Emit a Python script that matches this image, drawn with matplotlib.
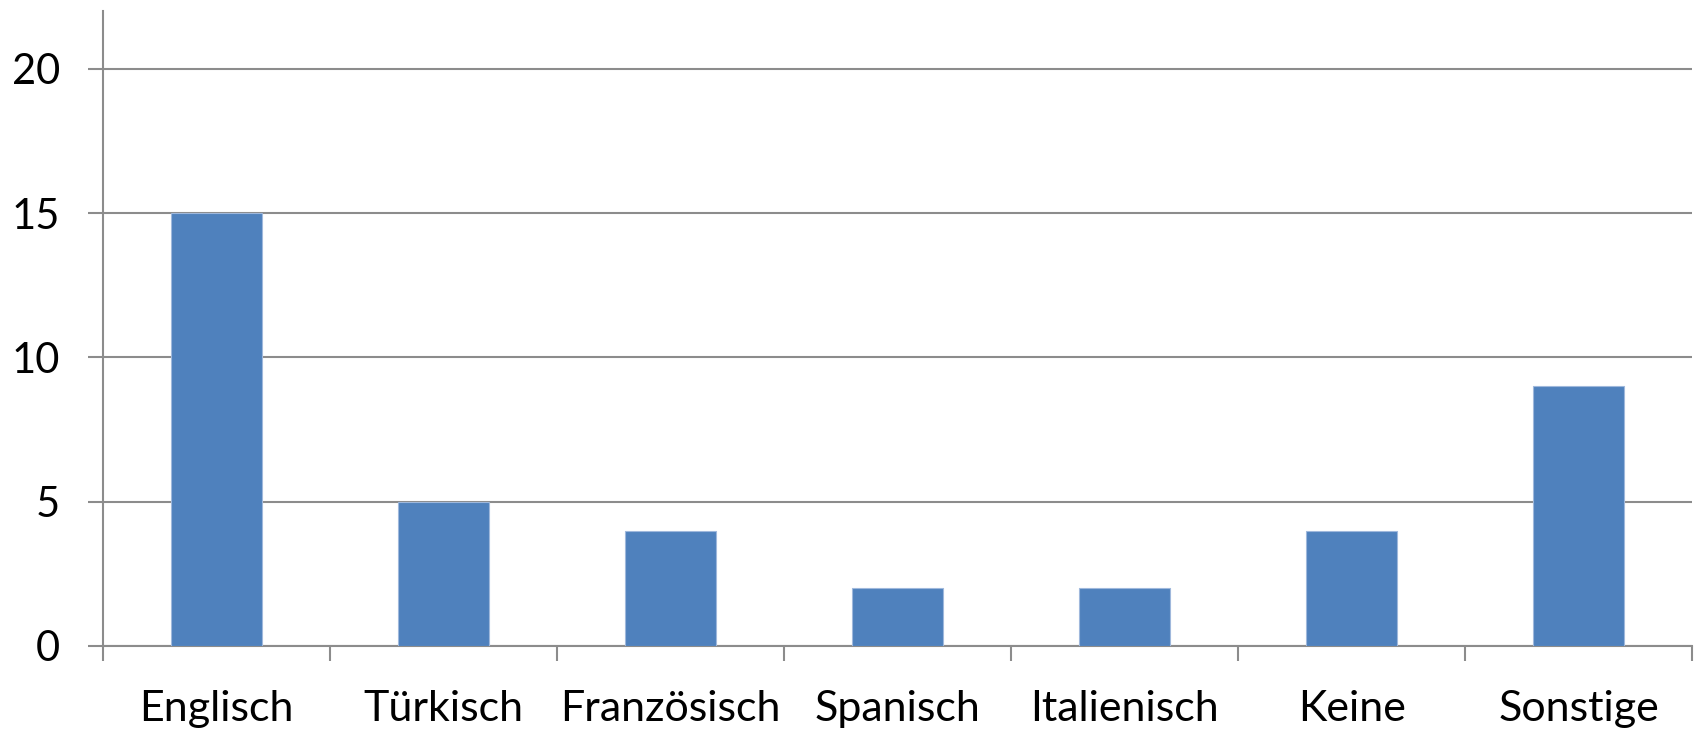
import numpy as np
import matplotlib.pyplot as plt

# Sprachen und Anzahl
sprachen = ['Englisch', 'Türkisch', 'Französisch', 'Spanisch', 'Italienisch', 'Keine', 'Sonstige']
anzahl = [15, 5, 4, 2, 2, 4, 9]
yticks = [0, 5, 10, 15, 20]

plt.rcParams['font.family'] = ['Lato', 'DejaVu Sans']
grau = '#8c8c8c'

fig = plt.figure(figsize=(16.96, 7.31), dpi=100)
ax = fig.add_axes([0.0607, 0.1163, 0.9370, 0.8687])

x = np.arange(len(sprachen))
ax.bar(x, anzahl, width=0.4, color='#4f81bd', edgecolor='#9fb8dc', linewidth=0.8, zorder=3)

ax.set_xlim(-0.5, len(sprachen) - 0.5)
ax.set_ylim(0, 22)
ax.set_yticks(yticks)
ax.yaxis.grid(True, color=grau, linewidth=1.5, zorder=0)

# Kategoriegrenzen als Ticks
ax.set_xticks(np.arange(len(sprachen) + 1) - 0.5)
ax.set_xticklabels([])
ax.set_xticks(x, minor=True)
ax.set_xticklabels(sprachen, minor=True, fontsize=31)
ax.tick_params(axis='x', which='minor', length=0, pad=32)
ax.tick_params(axis='x', which='major', length=11, width=1.5, color=grau)
ax.tick_params(axis='y', length=11, width=1.5, color=grau, labelsize=30, pad=20)

for s in ['top', 'right']:
    ax.spines[s].set_visible(False)
for s in ['left', 'bottom']:
    ax.spines[s].set_color(grau)
    ax.spines[s].set_linewidth(1.5)

plt.savefig('out.png', dpi=100)
plt.close()
